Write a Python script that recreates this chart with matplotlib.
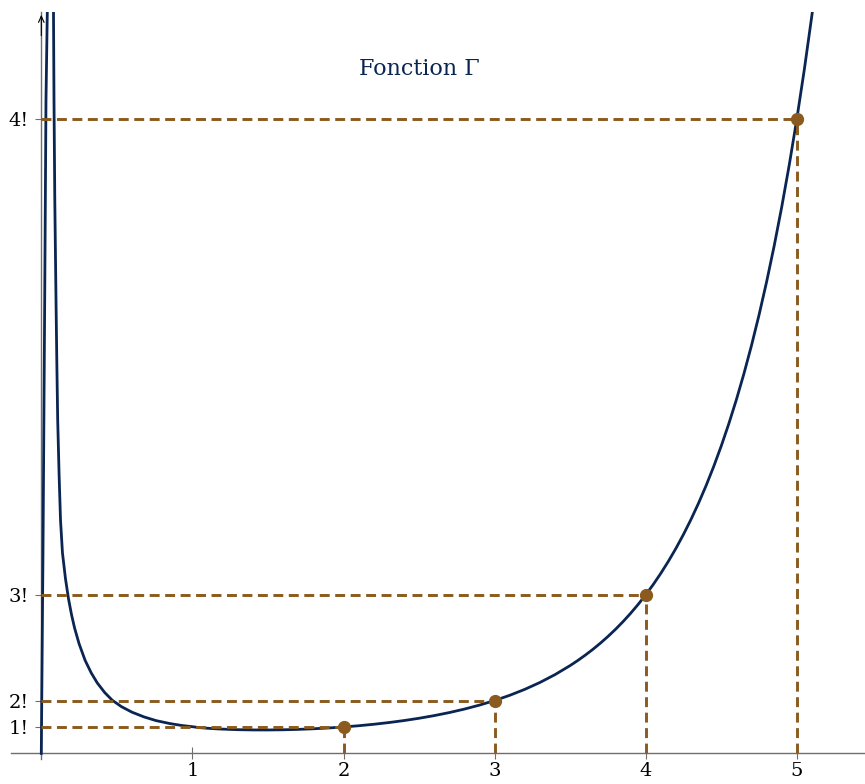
import numpy as np
import matplotlib
matplotlib.use('Agg')
import matplotlib.pyplot as plt

# courbe (x, Gamma(x)), pic pres de 0 compris
courbe_x = [0.0, 0.0113, 0.0225, 0.031, 0.0397, 0.06, 0.0807, 0.084, 0.0893, 0.0973,
            0.103, 0.1085, 0.118, 0.1271, 0.14, 0.16, 0.18, 0.2, 0.22, 0.25, 0.29,
            0.33, 0.37, 0.42, 0.47, 0.53, 0.6, 0.68, 0.76, 0.85, 0.93,
            1.0, 1.05, 1.1, 1.15, 1.2, 1.3, 1.4, 1.5, 1.6, 1.7, 1.8, 1.9,
            2.0, 2.1, 2.2, 2.3, 2.4, 2.5, 2.6, 2.7, 2.8, 2.9,
            3.0, 3.1, 3.2, 3.3, 3.4, 3.5, 3.55, 3.6, 3.65, 3.7, 3.75, 3.8, 3.85, 3.9, 3.95,
            4.0, 4.05, 4.1, 4.15, 4.2, 4.25, 4.3, 4.35, 4.4, 4.45, 4.5, 4.55, 4.6, 4.65,
            4.7, 4.75, 4.8, 4.85, 4.9, 4.95, 5.0, 5.05, 5.1, 5.15, 5.2]
courbe_y = [0.0, 7.7, 17.16, 24.72, 28.05, 40.0, 28.05, 24.72, 20.94, 17.16,
            14.7, 12.61, 10.5, 8.83, 7.59, 6.61, 5.85, 5.25, 4.75, 4.15, 3.52,
            3.05, 2.67, 2.30, 2.01, 1.77, 1.56, 1.38, 1.24, 1.13, 1.056,
            1.01, 0.9735, 0.9514, 0.933, 0.9182, 0.8975, 0.8873, 0.8862, 0.8935, 0.9086, 0.9314, 0.9618,
            1.0, 1.0465, 1.1018, 1.1667, 1.2422, 1.3293, 1.4296, 1.5447, 1.6765, 1.8274,
            2.0, 2.1977, 2.424, 2.6834, 2.9813, 3.3234, 3.5133, 3.717, 3.9358, 4.1707, 4.423, 4.6942, 4.9857, 5.2993, 5.6368,
            6.0, 6.3911, 6.8129, 7.2669, 7.7567, 8.2851, 8.855, 9.471, 10.136, 10.855, 11.632, 12.472, 13.381, 14.366,
            15.431, 16.586, 17.838, 19.195, 20.667, 22.265, 24.0, 25.884, 27.93, 30.158, 32.58]

# points n! = Gamma(n+1)
points_x = [2, 3, 4, 5]
points_y = [1, 2, 6, 24]
y_labels = ['1!', '2!', '3!', '4!']
x_ticks = [1, 2, 3, 4, 5]

bleu = '#0a2551'
brun = '#8a5a1e'
gris = '#6e6e6e'

plt.rcParams['font.family'] = ['DejaVu Serif']

fig = plt.figure(figsize=(8.65, 7.84), dpi=100)
W, H = 865, 784
x0, sx = 41.3, 151.1
y0, sy = 753.4, 26.43
xmin = (11 - x0) / sx
xmax = (W - x0) / sx
ymin = -0.2
ymax = (y0 - 12) / sy
ax = fig.add_axes([11 / W, (H - y0 - 0.2 * sy) / H, (W - 11) / W, (y0 + 0.2 * sy - 12) / H])
ax.set_xlim(xmin, xmax)
ax.set_ylim(ymin, ymax)

ax.plot(courbe_x, courbe_y, color=bleu, lw=2.0, zorder=3, solid_joinstyle='round')

for px, py in zip(points_x, points_y):
    ax.plot([0, px], [py, py], color=brun, lw=2.1, ls=(0, (3.4, 1.9)), zorder=4)
    ax.plot([px, px], [0, py], color=brun, lw=2.1, ls=(0, (3.4, 1.9)), zorder=4)
ax.plot(points_x, points_y, 'o', color=brun, ms=8.5, zorder=5)

for s in ['top', 'right']:
    ax.spines[s].set_visible(False)
ax.spines['left'].set_position(('data', 0))
ax.spines['bottom'].set_position(('data', 0))
ax.spines['left'].set_color(gris)
ax.spines['bottom'].set_color(gris)
ax.spines['left'].set_linewidth(1.0)
ax.spines['bottom'].set_linewidth(1.0)
ax.annotate('', xy=(0, ymax), xytext=(0, ymax - 1),
            arrowprops=dict(arrowstyle='->,head_length=0.45,head_width=0.2',
                            color='black', lw=0.8), annotation_clip=False)

ax.set_xticks(x_ticks)
ax.set_xticklabels([str(v) for v in x_ticks])
ax.set_yticks(points_y)
ax.set_yticklabels(y_labels)
ax.tick_params(direction='inout', length=8, width=0.8, color=gris, labelsize=14)
ax.tick_params(axis='x', pad=2.5)
ax.tick_params(axis='y', pad=5)

ax.text(2.5, 25.9, 'Fonction Γ', color=bleu, fontsize=16, ha='center', va='center')

fig.savefig('out.png', dpi=100)
